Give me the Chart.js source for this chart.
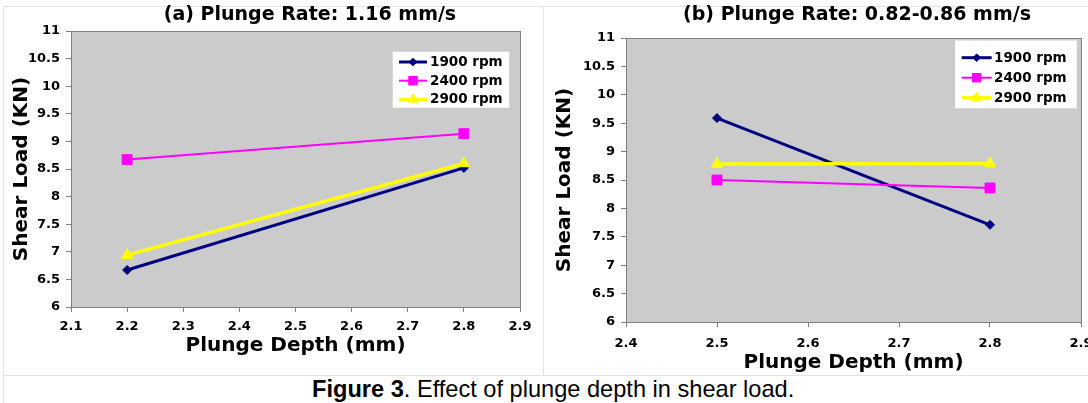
<!DOCTYPE html>
<html>
<head>
<meta charset="utf-8">
<script src="https://cdn.jsdelivr.net/npm/chart.js@4.4.0/dist/chart.umd.min.js"></script>
<style>
body { margin: 0; width: 1088px; height: 403px; overflow: hidden; background: #fff; position: relative; }
.rule { position: absolute; background: #e4e4e4; }
#c1 { position: absolute; left: 0; top: 0; }
#c2 { position: absolute; left: 543px; top: 0; }
#caption { position: absolute; left: 312px; top: 378px; font: 23.6px "Liberation Sans", Arial, sans-serif; line-height: 23px; white-space: nowrap; color: #000; }
</style>
</head>
<body>
<div class="rule" style="left:3px;top:6px;width:1085px;height:1px"></div>
<div class="rule" style="left:3px;top:6px;width:1px;height:397px"></div>
<div class="rule" style="left:543px;top:6px;width:1px;height:369px"></div>
<div class="rule" style="left:3px;top:375px;width:1085px;height:1px"></div>
<canvas id="c1" width="543" height="375"></canvas>
<canvas id="c2" width="560" height="375"></canvas>
<div id="caption"><b>Figure 3</b>. Effect of plunge depth in shear load.</div>
<script>
// values
const depthA = [2.2, 2.8];
const depthB = [2.5, 2.8];
const rpmLabels = ['1900 rpm', '2400 rpm', '2900 rpm'];

const loadA1900 = [6.67, 8.52];
const loadA2400 = [8.67, 9.14];
const loadA2900 = [6.94, 8.6];

const loadB1900 = [9.59, 7.71];
const loadB2400 = [8.5, 8.36];
const loadB2900 = [8.78, 8.79];

const titleA = '(a) Plunge Rate: 1.16 mm/s';
const titleB = '(b) Plunge Rate: 0.82-0.86 mm/s';
const xTitle = 'Plunge Depth (mm)';
const yTitle = 'Shear Load (KN)';

Chart.defaults.font.family = '"DejaVu Sans", Verdana, sans-serif';
Chart.defaults.color = '#000';

const seriesStyle = [
    { color: '#000080', pointStyle: 'rectRot', radius: 4.5, width: 3, order: 3 },
    { color: '#FF00FF', pointStyle: 'rect', radius: 7, width: 2, order: 2 },
    { color: '#FFFF00', pointStyle: 'triangle', radius: 6.5, width: 3.5, order: 1 }
];

function makeDatasets(depths, seriesList) {
    return seriesList.map((vals, i) => {
        const s = seriesStyle[i];
        return {
            label: rpmLabels[i],
            data: depths.map((d, j) => ({ x: d, y: vals[j] })),
            borderColor: s.color,
            backgroundColor: s.color,
            borderWidth: s.width,
            pointStyle: s.pointStyle,
            pointRadius: s.radius,
            pointBorderWidth: 1,
            pointBorderColor: s.color,
            pointBackgroundColor: s.color,
            order: s.order,
            tension: 0
        };
    });
}

const plotFrame = {
    id: 'plotFrame',
    beforeDraw(chart) {
        const a = chart.chartArea, ctx = chart.ctx;
        ctx.save();
        ctx.fillStyle = '#cbcbcb';
        ctx.fillRect(a.left, a.top, a.right - a.left, a.bottom - a.top);
        ctx.restore();
    },
    beforeDatasetsDraw(chart) {
        const a = chart.chartArea, ctx = chart.ctx;
        ctx.save();
        ctx.strokeStyle = '#808080';
        ctx.lineWidth = 1;
        ctx.strokeRect(a.left + 0.5, a.top + 0.5, a.right - a.left, a.bottom - a.top);
        ctx.restore();
    }
};

const panelTitle = {
    id: 'panelTitle',
    afterDraw(chart, args, opts) {
        const ctx = chart.ctx;
        ctx.save();
        ctx.font = 'bold 19px "DejaVu Sans", Verdana, sans-serif';
        ctx.fillStyle = '#000';
        ctx.textAlign = 'center';
        ctx.textBaseline = 'middle';
        ctx.fillText(opts.text, opts.x, opts.y);
        ctx.restore();
    }
};

const boxLegend = {
    id: 'boxLegend',
    afterDatasetsDraw(chart, args, opts) {
        const ctx = chart.ctx;
        ctx.save();
        ctx.fillStyle = '#fff';
        ctx.fillRect(opts.x, opts.y, opts.w, opts.h);
        ctx.font = 'bold 13.5px "DejaVu Sans", Verdana, sans-serif';
        ctx.textAlign = 'left';
        ctx.textBaseline = 'middle';
        chart.data.datasets.forEach((ds, i) => {
            const y = opts.firstRow + i * opts.rowH;
            ctx.strokeStyle = ds.borderColor;
            ctx.lineWidth = ds.borderWidth;
            ctx.beginPath();
            ctx.moveTo(opts.lineX0, y);
            ctx.lineTo(opts.lineX1, y);
            ctx.stroke();
            ctx.fillStyle = ds.backgroundColor;
            ctx.lineWidth = 1;
            Chart.helpers.drawPoint(ctx, { pointStyle: ds.pointStyle, radius: ds.pointRadius * 0.85, borderWidth: 1, rotation: 0 }, (opts.lineX0 + opts.lineX1) / 2, y);
            ctx.fillStyle = '#000';
            ctx.fillText(ds.label, opts.textX, y + 0.5);
        });
        ctx.restore();
    }
};

function makeOptions(cfg) {
    return {
        responsive: false,
        animation: false,
        events: [],
        layout: { padding: { left: 0, top: cfg.top, right: cfg.right, bottom: 0 } },
        plugins: {
            legend: { display: false },
            tooltip: { enabled: false },
            panelTitle: cfg.title,
            boxLegend: cfg.legend
        },
        scales: {
            x: {
                type: 'linear',
                position: 'bottom',
                min: cfg.xMin,
                max: 2.9,
                ticks: {
                    stepSize: 0.1,
                    callback: v => v.toFixed(1),
                    font: { size: 13, weight: 'bold' },
                    color: '#000',
                    padding: cfg.xTickPad,
                    maxRotation: 0,
                    autoSkip: false
                },
                grid: { drawOnChartArea: false, tickLength: 5, color: '#808080' },
                border: { color: '#808080' },
                title: { display: true, text: xTitle, font: { size: 20, weight: 'bold' }, color: '#000', padding: { top: 0, bottom: cfg.xTitlePad } },
                afterFit: s => { s.height = cfg.xHeight; s.paddingLeft = 0; s.paddingRight = 0; }
            },
            y: {
                min: 6,
                max: 11,
                ticks: {
                    stepSize: 0.5,
                    callback: v => String(Math.round(v * 10) / 10),
                    font: { size: 13, weight: 'bold' },
                    color: '#000',
                    padding: 6
                },
                grid: { drawOnChartArea: false, tickLength: 5, color: '#808080' },
                border: { color: '#808080' },
                title: { display: true, text: yTitle, font: { size: 20, weight: 'bold' }, color: '#000', padding: { top: 10, bottom: 0 } },
                afterFit: s => { s.width = cfg.yWidth; s.paddingTop = 0; s.paddingBottom = 0; }
            }
        }
    };
}

new Chart(document.getElementById('c1'), {
    type: 'line',
    data: { datasets: makeDatasets(depthA, [loadA1900, loadA2400, loadA2900]) },
    options: makeOptions({
        top: 31, right: 23, xMin: 2.1, xHeight: 68, yWidth: 71, xTitlePad: 17, xTickPad: 7,
        title: { text: titleA, x: 310, y: 15 },
        legend: { x: 392.7, y: 51.7, w: 116.6, h: 56, lineX0: 399, lineX1: 427, textX: 430, firstRow: 62, rowH: 18.7 }
    }),
    plugins: [plotFrame, panelTitle, boxLegend]
});

new Chart(document.getElementById('c2'), {
    type: 'line',
    data: { datasets: makeDatasets(depthB, [loadB1900, loadB2400, loadB2900]) },
    options: makeOptions({
        top: 38, right: 22, xMin: 2.4, xHeight: 53, yWidth: 83, xTitlePad: 0, xTickPad: 9,
        title: { text: titleB, x: 314, y: 15.5 },
        legend: { x: 412, y: 40.5, w: 121.7, h: 67.8, lineX0: 418.7, lineX1: 448.7, textX: 451, firstRow: 57.7, rowH: 20 }
    }),
    plugins: [plotFrame, panelTitle, boxLegend]
});
</script>
</body>
</html>
